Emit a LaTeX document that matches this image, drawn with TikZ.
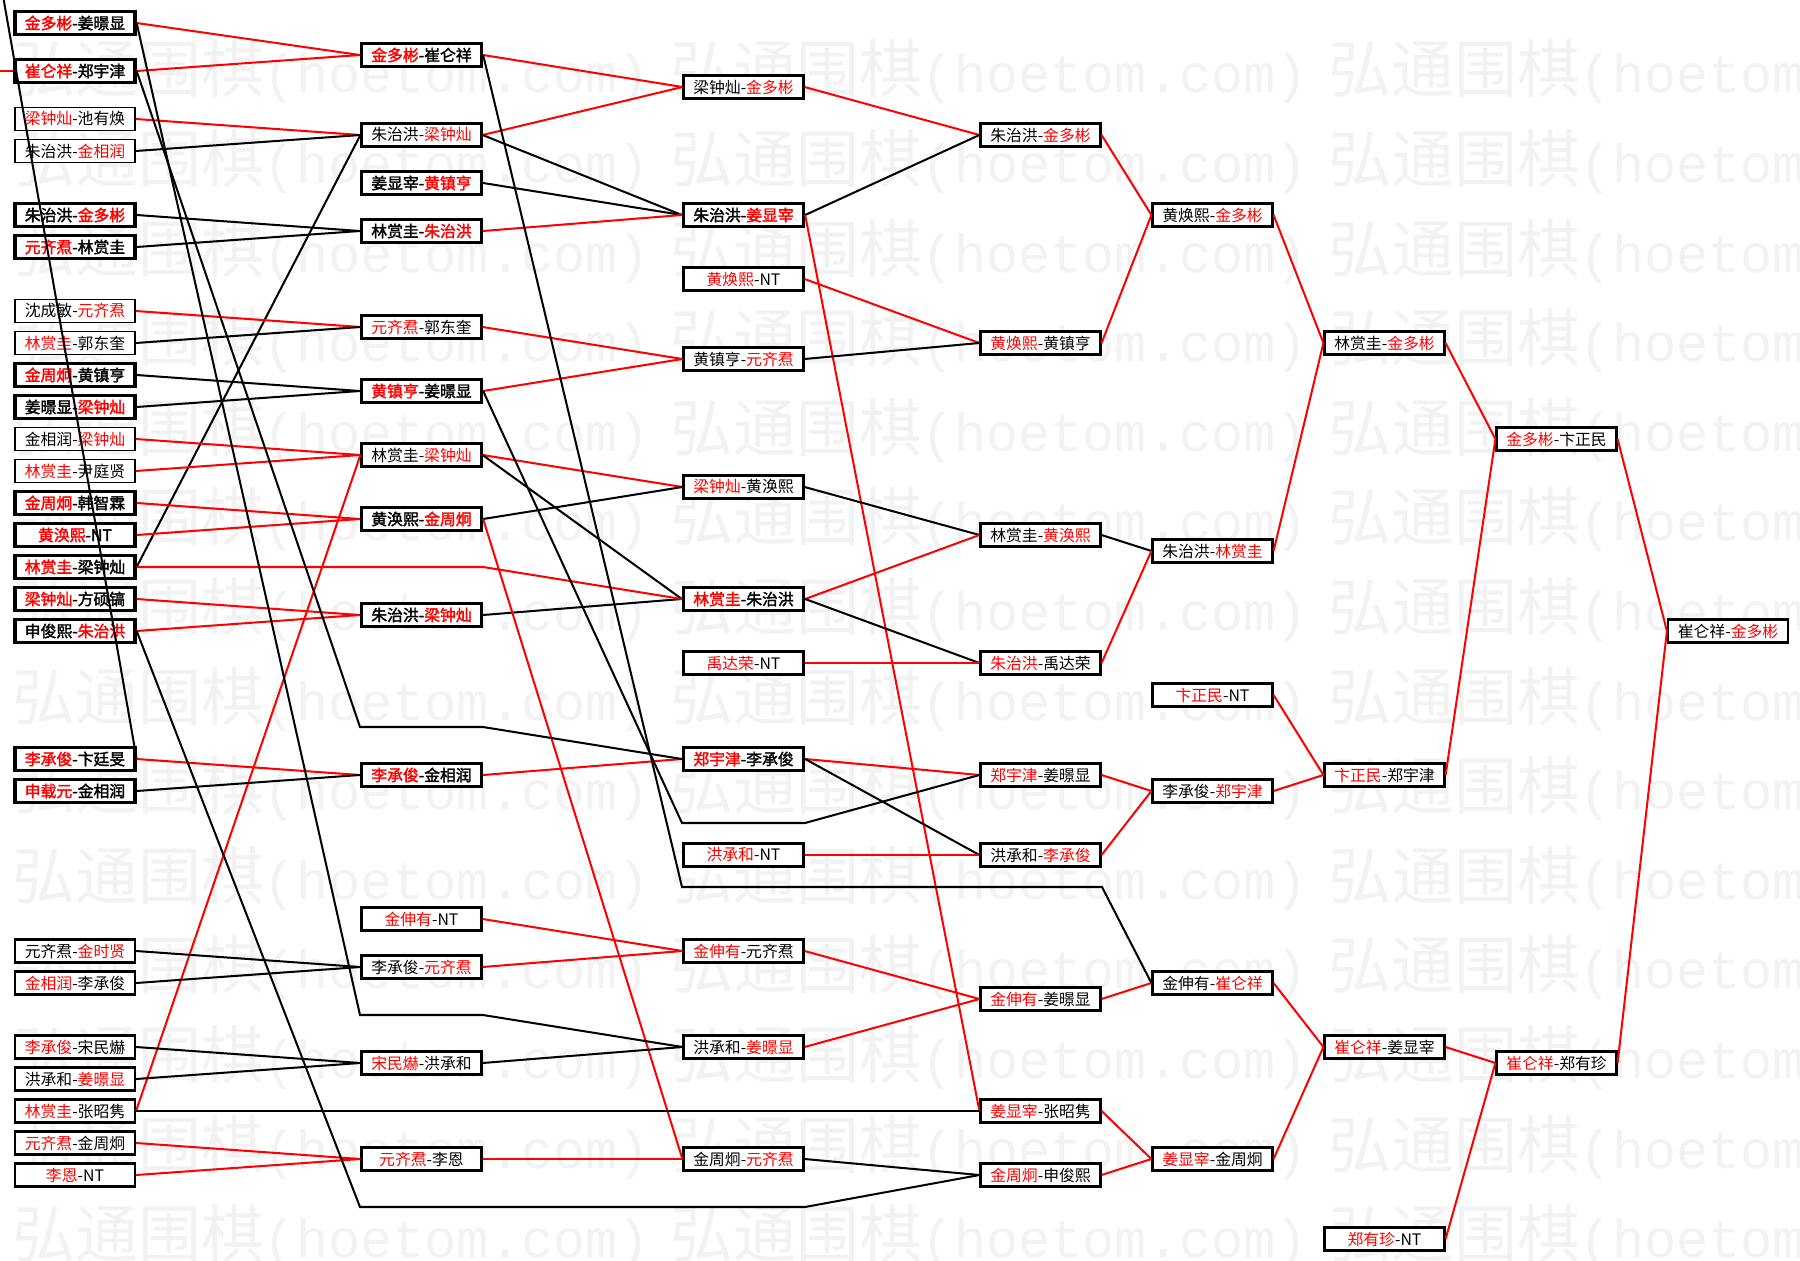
\documentclass[tikz,border=0pt]{standalone}
\usepackage{fontspec}
\setmainfont{Noto Sans CJK SC}[AutoFakeBold=2]
\newfontfamily\wmmono{Liberation Mono}
\newcommand\rd[1]{\textcolor{red}{#1}}
\newcommand\wmtext{{\fontsize{35.8pt}{36pt}\selectfont 弘通围棋}{\wmmono\fontsize{30.5pt}{31pt}\selectfont (hoetom.com)}}
\begin{document}
\begin{tikzpicture}[
  x=0.02cm, y=-0.02cm,
  game/.style={draw, fill=white, line width=1.25pt, minimum width=2.4cm, minimum height=0.46cm,
               inner sep=0pt, font=\fontsize{9pt}{9pt}\selectfont},
  bgame/.style={game, line width=1.9pt, font=\fontsize{9pt}{9pt}\selectfont\bfseries},
  tgame/.style={game, line width=0.9pt},
  win/.style={draw=red, line width=1.15pt},
  lose/.style={draw=black, line width=1.15pt},
  wm/.style={anchor=west, inner sep=0pt, text=black!5},
]
\fill[white] (0,0) rectangle (1800,1261);
\useasboundingbox (0,0) rectangle (1800,1261);

%% Watermark
\foreach \r in {0,...,13}
  \foreach \c in {0,1,2}
    \node[wm] (wm-\r-\c) at ({12+658*\c},{72+89.6*\r}) {\wmtext};

%% Round 1
\node[bgame] (a01) at (75,23)   {\rd{金多彬}-姜暻显};
\node[bgame] (a04) at (75,71)   {\rd{崔仑祥}-郑宇津};
\node[tgame] (a07) at (75,119)  {\rd{梁钟灿}-池有焕};
\node[tgame] (a09) at (75,151)  {朱治洪-\rd{金相润}};
\node[bgame] (a13) at (75,215)  {朱治洪-\rd{金多彬}};
\node[bgame] (a15) at (75,247)  {\rd{元齐焄}-林赏圭};
\node[tgame] (a19) at (75,311)  {沈成敏-\rd{元齐焄}};
\node[tgame] (a21) at (75,343)  {\rd{林赏圭}-郭东奎};
\node[bgame] (a23) at (75,375)  {\rd{金周炯}-黄镇亨};
\node[bgame] (a25) at (75,407)  {姜暻显-\rd{梁钟灿}};
\node[tgame] (a27) at (75,439)  {金相润-\rd{梁钟灿}};
\node[tgame] (a29) at (75,471)  {\rd{林赏圭}-尹庭贤};
\node[bgame] (a31) at (75,503)  {\rd{金周炯}-韩智霖};
\node[bgame] (a33) at (75,535)  {\rd{黄涣熙}-NT};
\node[bgame] (a35) at (75,567)  {\rd{林赏圭}-梁钟灿};
\node[bgame] (a37) at (75,599)  {\rd{梁钟灿}-方硕镐};
\node[bgame] (a39) at (75,631)  {申俊熙-\rd{朱治洪}};
\node[bgame] (a47) at (75,759)  {\rd{李承俊}-卞廷旻};
\node[bgame] (a49) at (75,791)  {\rd{申载元}-金相润};
\node[game]  (a59) at (75,951)  {元齐焄-\rd{金时贤}};
\node[game]  (a61) at (75,983)  {\rd{金相润}-李承俊};
\node[game]  (a65) at (75,1047) {\rd{李承俊}-宋民爀};
\node[game]  (a67) at (75,1079) {洪承和-\rd{姜暻显}};
\node[game]  (a69) at (75,1111) {\rd{林赏圭}-张昭隽};
\node[game]  (a71) at (75,1143) {\rd{元齐焄}-金周炯};
\node[game]  (a73) at (75,1175) {\rd{李恩}-NT};

%% Round 2
\node[bgame] (b03) at (421.5,55)   {\rd{金多彬}-崔仑祥};
\node[game]  (b08) at (421.5,135)  {朱治洪-\rd{梁钟灿}};
\node[bgame] (b11) at (421.5,183)  {姜显宰-\rd{黄镇亨}};
\node[bgame] (b14) at (421.5,231)  {林赏圭-\rd{朱治洪}};
\node[game]  (b20) at (421.5,327)  {\rd{元齐焄}-郭东奎};
\node[bgame] (b24) at (421.5,391)  {\rd{黄镇亨}-姜暻显};
\node[game]  (b28) at (421.5,455)  {林赏圭-\rd{梁钟灿}};
\node[bgame] (b32) at (421.5,519)  {黄涣熙-\rd{金周炯}};
\node[bgame] (b38) at (421.5,615)  {朱治洪-\rd{梁钟灿}};
\node[bgame] (b48) at (421.5,775)  {\rd{李承俊}-金相润};
\node[game]  (b57) at (421.5,919)  {\rd{金伸有}-NT};
\node[game]  (b60) at (421.5,967)  {李承俊-\rd{元齐焄}};
\node[game]  (b66) at (421.5,1063) {\rd{宋民爀}-洪承和};
\node[game]  (b72) at (421.5,1159) {\rd{元齐焄}-李恩};

%% Round 3
\node[game]  (c05) at (743.5,87)   {梁钟灿-\rd{金多彬}};
\node[bgame] (c13) at (743.5,215)  {朱治洪-\rd{姜显宰}};
\node[game]  (c17) at (743.5,279)  {\rd{黄焕熙}-NT};
\node[game]  (c22) at (743.5,359)  {黄镇亨-\rd{元齐焄}};
\node[game]  (c30) at (743.5,487)  {\rd{梁钟灿}-黄涣熙};
\node[bgame] (c37) at (743.5,599)  {\rd{林赏圭}-朱治洪};
\node[game]  (c41) at (743.5,663)  {\rd{禹达荣}-NT};
\node[bgame] (c47) at (743.5,759)  {\rd{郑宇津}-李承俊};
\node[game]  (c53) at (743.5,855)  {\rd{洪承和}-NT};
\node[game]  (c59) at (743.5,951)  {\rd{金伸有}-元齐焄};
\node[game]  (c65) at (743.5,1047) {洪承和-\rd{姜暻显}};
\node[game]  (c72) at (743.5,1159) {金周炯-\rd{元齐焄}};

%% Round 4
\node[game] (d08) at (1040.5,135)  {朱治洪-\rd{金多彬}};
\node[game] (d21) at (1040.5,343)  {\rd{黄焕熙}-黄镇亨};
\node[game] (d33) at (1040.5,535)  {林赏圭-\rd{黄涣熙}};
\node[game] (d41) at (1040.5,663)  {\rd{朱治洪}-禹达荣};
\node[game] (d48) at (1040.5,775)  {\rd{郑宇津}-姜暻显};
\node[game] (d53) at (1040.5,855)  {洪承和-\rd{李承俊}};
\node[game] (d62) at (1040.5,999)  {\rd{金伸有}-姜暻显};
\node[game] (d69) at (1040.5,1111) {\rd{姜显宰}-张昭隽};
\node[game] (d73) at (1040.5,1175) {\rd{金周炯}-申俊熙};

%% Round 5
\node[game] (e13) at (1212.5,215)  {黄焕熙-\rd{金多彬}};
\node[game] (e34) at (1212.5,551)  {朱治洪-\rd{林赏圭}};
\node[game] (e43) at (1212.5,695)  {\rd{卞正民}-NT};
\node[game] (e49) at (1212.5,791)  {李承俊-\rd{郑宇津}};
\node[game] (e61) at (1212.5,983)  {金伸有-\rd{崔仑祥}};
\node[game] (e72) at (1212.5,1159) {\rd{姜显宰}-金周炯};

%% Rounds 6 to final
\node[game] (f21) at (1384.5,343)  {林赏圭-\rd{金多彬}};
\node[game] (f48) at (1384.5,775)  {\rd{卞正民}-郑宇津};
\node[game] (f65) at (1384.5,1047) {\rd{崔仑祥}-姜显宰};
\node[game] (f77) at (1384.5,1239) {\rd{郑有珍}-NT};
\node[game] (g27) at (1556.5,439)  {\rd{金多彬}-卞正民};
\node[game] (g66) at (1556.5,1063) {\rd{崔仑祥}-郑有珍};
\node[game] (h39) at (1728,631)    {崔仑祥-\rd{金多彬}};

%% Bends of the long lines
\coordinate (k45a) at (360,727);  \coordinate (k45b) at (483,727);
\coordinate (k63a) at (360,1015); \coordinate (k63b) at (483,1015);
\coordinate (k75a) at (360,1207); \coordinate (k75b) at (805,1207);
\coordinate (k51a) at (682,823);  \coordinate (k51b) at (805,823);
\coordinate (k55a) at (682,887);  \coordinate (k55b) at (1102,887);
\coordinate (offtop) at (2,-10);
\coordinate (offleft) at (-10,71);

%% Round 1 -> 2
\draw[win]  (offleft) -- (a04.west);
\draw[lose] (a47.east) -- (offtop);
\draw[win]  (a01.east) -- (b03.west);
\draw[win]  (a04.east) -- (b03.west);
\draw[win]  (a07.east) -- (b08.west);
\draw[lose] (a09.east) -- (b08.west);
\draw[lose] (a35.east) -- (b08.west);
\draw[lose] (a13.east) -- (b14.west);
\draw[lose] (a15.east) -- (b14.west);
\draw[win]  (a19.east) -- (b20.west);
\draw[lose] (a21.east) -- (b20.west);
\draw[lose] (a23.east) -- (b24.west);
\draw[lose] (a25.east) -- (b24.west);
\draw[win]  (a27.east) -- (b28.west);
\draw[win]  (a29.east) -- (b28.west);
\draw[win]  (a69.east) -- (b28.west);
\draw[win]  (a31.east) -- (b32.west);
\draw[win]  (a33.east) -- (b32.west);
\draw[win]  (a37.east) -- (b38.west);
\draw[win]  (a39.east) -- (b38.west);
\draw[win]  (a47.east) -- (b48.west);
\draw[lose] (a49.east) -- (b48.west);
\draw[lose] (a59.east) -- (b60.west);
\draw[lose] (a61.east) -- (b60.west);
\draw[lose] (a65.east) -- (b66.west);
\draw[lose] (a67.east) -- (b66.west);
\draw[win]  (a71.east) -- (b72.west);
\draw[win]  (a73.east) -- (b72.west);

%% Round 2 -> 3
\draw[win]  (b03.east) -- (c05.west);
\draw[win]  (b08.east) -- (c05.west);
\draw[lose] (b08.east) -- (c13.west);
\draw[lose] (b11.east) -- (c13.west);
\draw[win]  (b14.east) -- (c13.west);
\draw[win]  (b20.east) -- (c22.west);
\draw[win]  (b24.east) -- (c22.west);
\draw[win]  (b28.east) -- (c30.west);
\draw[lose] (b32.east) -- (c30.west);
\draw[lose] (b28.east) -- (c37.west);
\draw[lose] (b38.east) -- (c37.west);
\draw[win]  (b32.east) -- (c72.west);
\draw[win]  (b48.east) -- (c47.west);
\draw[win]  (b57.east) -- (c59.west);
\draw[win]  (b60.east) -- (c59.west);
\draw[lose] (b66.east) -- (c65.west);
\draw[win]  (b72.east) -- (c72.west);
\draw[win]  (a35.east) -- (b48.east |- a35.east) -- (c37.west);
\draw[lose] (a04.east) -- (k45a) -- (k45b) -- (c47.west);
\draw[lose] (a01.east) -- (k63a) -- (k63b) -- (c65.west);

%% Round 3 -> 4
\draw[win]  (c05.east) -- (d08.west);
\draw[lose] (c13.east) -- (d08.west);
\draw[win]  (c13.east) -- (d69.west);
\draw[win]  (c17.east) -- (d21.west);
\draw[lose] (c22.east) -- (d21.west);
\draw[lose] (c30.east) -- (d33.west);
\draw[win]  (c37.east) -- (d33.west);
\draw[lose] (c37.east) -- (d41.west);
\draw[win]  (c41.east) -- (d41.west);
\draw[win]  (c47.east) -- (d48.west);
\draw[lose] (c47.east) -- (d53.west);
\draw[win]  (c53.east) -- (d53.west);
\draw[win]  (c59.east) -- (d62.west);
\draw[win]  (c65.east) -- (d62.west);
\draw[lose] (c72.east) -- (d73.west);
\draw[lose] (a69.east) -- (d69.west);
\draw[lose] (b24.east) -- (k51a) -- (k51b) -- (d48.west);
\draw[lose] (a39.east) -- (k75a) -- (k75b) -- (d73.west);

%% Round 4 -> 5
\draw[win]  (d08.east) -- (e13.west);
\draw[win]  (d21.east) -- (e13.west);
\draw[lose] (d33.east) -- (e34.west);
\draw[win]  (d41.east) -- (e34.west);
\draw[win]  (d48.east) -- (e49.west);
\draw[win]  (d53.east) -- (e49.west);
\draw[win]  (d62.east) -- (e61.west);
\draw[win]  (d69.east) -- (e72.west);
\draw[win]  (d73.east) -- (e72.west);
\draw[lose] (b03.east) -- (k55a) -- (k55b) -- (e61.west);

%% Round 5 -> final
\draw[win] (e13.east) -- (f21.west);
\draw[win] (e34.east) -- (f21.west);
\draw[win] (e43.east) -- (f48.west);
\draw[win] (e49.east) -- (f48.west);
\draw[win] (e61.east) -- (f65.west);
\draw[win] (e72.east) -- (f65.west);
\draw[win] (f21.east) -- (g27.west);
\draw[win] (f48.east) -- (g27.west);
\draw[win] (f65.east) -- (g66.west);
\draw[win] (f77.east) -- (g66.west);
\draw[win] (g27.east) -- (h39.west);
\draw[win] (g66.east) -- (h39.west);

\end{tikzpicture}
\end{document}
